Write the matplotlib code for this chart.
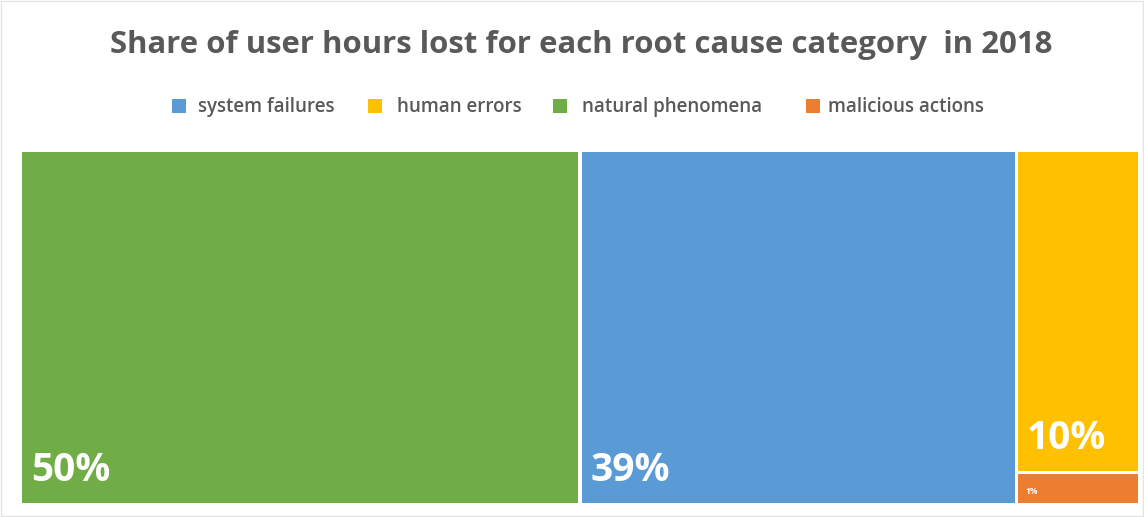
import matplotlib
matplotlib.use("Agg")
import matplotlib.pyplot as plt
from matplotlib.patches import Rectangle

categories = ["natural phenomena", "system failures", "human errors", "malicious actions"]
shares = [50, 39, 10, 1]
colors = ["#70AD47", "#5B9BD5", "#FFC000", "#ED7D31"]
legend_order = ["system failures", "human errors", "natural phenomena", "malicious actions"]
title = "Share of user hours lost for each root cause category  in 2018"

W, H = 1144, 517
fig = plt.figure(figsize=(W / 100, H / 100), dpi=100)
ax = fig.add_axes([0, 0, 1, 1])
ax.set_xlim(0, W)
ax.set_ylim(H, 0)
ax.axis("off")


def worst(row, side):
    s = sum(row)
    return max(max(side * side * r / (s * s), s * s / (side * side * r)) for r in row)


def squarify(values, x, y, w, h):
    """Squarified treemap layout; returns (x, y, w, h) per value."""
    total = sum(values)
    areas = [v * w * h / total for v in values]
    rects = []
    i = 0
    while i < len(areas):
        side = min(w, h)
        row = [areas[i]]
        j = i + 1
        while j < len(areas) and worst(row + [areas[j]], side) <= worst(row, side):
            row.append(areas[j])
            j += 1
        s = sum(row)
        if w >= h:
            cw = s / h
            cy = y
            for a in row:
                rh = a / cw
                rects.append((x, cy, cw, rh))
                cy += rh
            x += cw
            w -= cw
        else:
            rh = s / w
            cx = x
            for a in row:
                rw = a / rh
                rects.append((cx, y, rw, rh))
                cx += rw
            y += rh
            h -= rh
        i = j
    return rects


x0, y0, x1, y1 = 20.5, 150.5, 1139.5, 505
rects = squarify(shares, x0, y0, x1 - x0, y1 - y0)
gap = 1.7
for (rx, ry, rw, rh), val, col in zip(rects, shares, colors):
    ax.add_patch(Rectangle((rx + gap, ry + gap), rw - 2 * gap, rh - 2 * gap,
                           facecolor=col, edgecolor="none"))
    big = rh > 100
    fs = 28 if big else 6
    ax.text(rx + gap + (9 if big else 7), ry + rh - gap - (22 if big else 9), f"{val}%",
            color="white", fontsize=fs, fontweight="bold", family="Open Sans",
            ha="left", va="baseline")

# chart frame
ax.add_patch(Rectangle((1, 1), W - 2, H - 2, facecolor="none", edgecolor="#E4E4E4", lw=1))

ax.text(110, 53, title, ha="left", va="baseline", fontsize=22.4,
        fontweight="bold", color="#595959", family="Open Sans")

# legend
marker_x = [172, 368, 553, 806]
text_x = [198, 397, 582, 828]
for name, mx, tx in zip(legend_order, marker_x, text_x):
    c = colors[categories.index(name)]
    ax.add_patch(Rectangle((mx, 99), 14, 14, facecolor=c, edgecolor="none"))
    ax.text(tx, 112, name, ha="left", va="baseline", fontsize=13.5,
            fontweight="semibold", color="#595959", family="Open Sans")

fig.savefig("out.png", dpi=100)
